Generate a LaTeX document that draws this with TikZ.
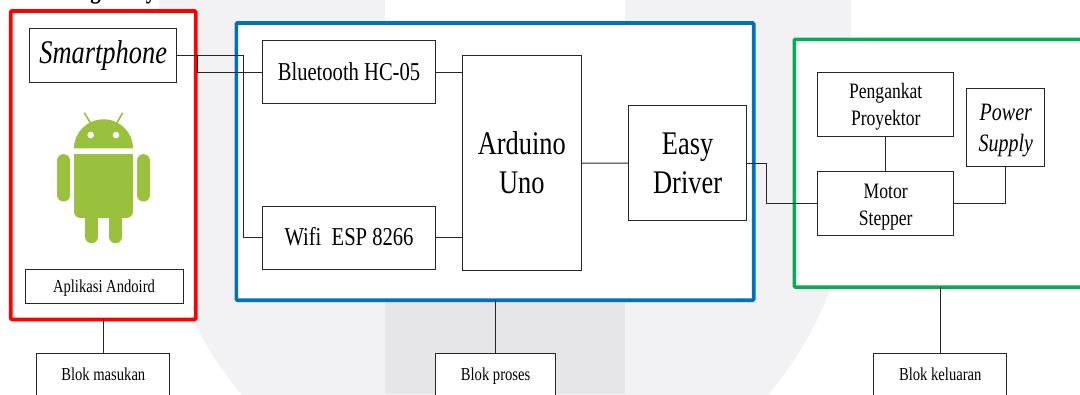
\documentclass[tikz,border=0pt]{standalone}
\usepackage{fontspec}
\setmainfont{Liberation Serif}[FakeStretch=0.8]
\definecolor{latarTipis}{HTML}{F2F2F4}
\definecolor{latarTebal}{HTML}{E6E6E8}
\definecolor{merah}{HTML}{FF0000}
\definecolor{biru}{HTML}{0070C0}
\definecolor{hijau}{HTML}{00B050}
\definecolor{droid}{HTML}{99C13D}
\definecolor{tinta}{HTML}{262626}
\newcommand{\ruangAtas}[1]{\rule{0pt}{#1}}
\tikzset{
	ukuran/.style 2 args={minimum width=#1*.75pt, minimum height=#2*.75pt},
	blok/.style={draw=tinta, fill=white, line width=.75pt, inner sep=0pt, outer sep=0pt, align=center},
	bingkai/.style={draw=#1, fill=white, line width=2.7pt, inner sep=0pt, outer sep=0pt, rounded corners=.8pt},
	garis/.style={draw=tinta, line width=.75pt},
	besar/.style={font=\fontsize{24.75}{29.25}\selectfont},
	sedang/.style={font=\fontsize{19.3}{22}\selectfont, text height=12pt, text depth=0pt},
	miring/.style={font=\fontsize{18.75}{23.2}\selectfont\itshape},
	kecil/.style={font=\fontsize{16.5}{20.6}\selectfont},
	mini/.style={font=\fontsize{13.7}{16}\selectfont, text height=11pt, text depth=3pt}
}
\begin{document}
\begin{tikzpicture}[x=.75pt, y=-.75pt]
	\useasboundingbox (0,0) rectangle (1080,394);
	\clip (0,0) rectangle (1080,394);
	% latar
	\fill[latarTipis] (159,0) -- (159,170) arc[start angle=180, end angle=0, radius=346] -- (851,0) -- cycle;
	\fill[white] (385,0) rectangle (625,60);
	\fill[latarTebal] (385,260) rectangle (625,394);
	\node[font=\fontsize{19.5}{22}\selectfont\bfseries, anchor=base] (judulA) at (95.5,-2) {g};
	\node[font=\fontsize{19.5}{22}\selectfont\bfseries, anchor=base] (judulB) at (151,-2) {y};

	\node[bingkai=merah, ukuran={185}{308.5}] (kotakMerah) at (103.2,165.2) {};
	\node[bingkai=biru, ukuran={517.4}{277.3}] (kotakBiru) at (495,161.6) {};
	\node[bingkai=hijau, ukuran={305.8}{247.7}] (kotakHijau) at (947.2,163.2) {};

	\node[blok, besar, ukuran={146.5}{53.5}] (smartphone) at (103.2,55.7) {\itshape Smartphone};
	\node[blok, mini, ukuran={158}{33.7}] (aplikasi) at (104,286.8) {Aplikasi Andoird};
	\node[blok, sedang, ukuran={173.2}{63}] (bluetooth) at (349,72.2) {Bluetooth HC-05};
	\node[blok, sedang, ukuran={173.2}{63}] (wifi) at (349,237.5) {Wifi\ \ ESP 8266};
	\node[blok, besar, ukuran={119.6}{214.6}] (arduino) at (521.8,163) {Arduino\\Uno};
	\node[blok, besar, ukuran={117.7}{115.7}] (easy) at (687.6,163.1) {Easy\\Driver};
	\node[blok, kecil, ukuran={136}{64.7}] (pengankat) at (885.7,104.6) {\ruangAtas{14.5pt}Pengankat\\Proyektor};
	\node[blok, kecil, ukuran={136}{64.7}] (motor) at (885.7,203.6) {\ruangAtas{16pt}Motor\\Stepper};
	\node[blok, miring, ukuran={78.3}{77.7}] (power) at (1005.8,127.8) {\ruangAtas{17pt}Power\\Supply};
	\node[blok, mini, ukuran={133}{44}] (masukan) at (103.3,375) {Blok masukan};
	\node[blok, mini, ukuran={120}{44}] (proses) at (495.6,375) {Blok proses};
	\node[blok, mini, ukuran={133.3}{44}] (keluaran) at (940.3,375) {Blok keluaran};

	\coordinate (tekukBt) at (197,55.7);
	\coordinate (tekukWifi) at (243,55.7);
	\coordinate (tekukMotor) at (766.7,163.1);
	\draw[garis] (smartphone.east) -- (tekukBt) |- (bluetooth.west);
	\draw[garis] (smartphone.east) -- (tekukWifi) |- (wifi.west);
	\draw[garis] (bluetooth.east) -- (bluetooth.east -| arduino.west);
	\draw[garis] (wifi.east) -- (wifi.east -| arduino.west);
	\draw[garis] (arduino.east) -- (easy.west);
	\draw[garis] (easy.east) -- (tekukMotor) |- (motor.west);
	\draw[garis] (pengankat.south) -- (motor.north);
	\draw[garis] (motor.east) -| (power.south);
	\draw[garis] (masukan.north) -- (masukan.north |- kotakMerah.south);
	\draw[garis] (proses.north) -- (proses.north |- kotakBiru.south);
	\draw[garis] (keluaran.north) -- (keluaran.north |- kotakHijau.south);

	% android
	\fill[droid] (74,148.3) arc[start angle=180, end angle=360, x radius=29.5, y radius=29] -- cycle;
	\fill[white] (90.7,135) circle[radius=3.3] (116,135) circle[radius=3.3];
	\draw[droid, line width=1.2pt] (84.3,112.7) -- (90.7,123.3) (122.7,112.7) -- (116.7,123.3);
	\fill[droid, rounded corners=5pt] (74,154) -- (133,154) -- (133,218) -- (74,218) -- cycle;
	\fill[droid] (74,154) rectangle (133,190);
	\draw[droid, line width=9.5pt, line cap=round] (63.8,160.5) -- (63.8,195.2) (143.4,160.5) -- (143.4,195.2);
	\draw[droid, line width=9.4pt, line cap=round] (91.7,212) -- (91.7,237) (115.5,212) -- (115.5,237);
\end{tikzpicture}
\end{document}
